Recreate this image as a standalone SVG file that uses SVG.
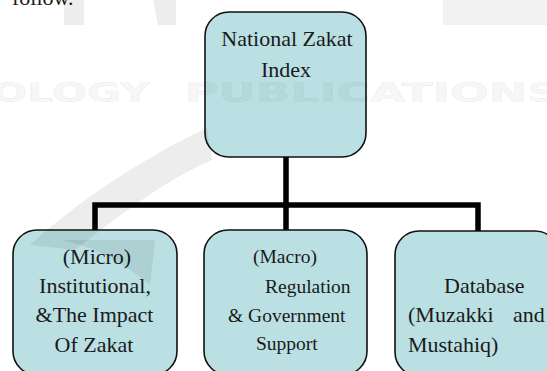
<svg xmlns="http://www.w3.org/2000/svg" width="547" height="371" viewBox="0 0 547 371">
  <style>
    .box { fill: #bbe0e3; stroke: #111; stroke-width: 1.6; }
    .t { font-family: "Liberation Serif", "Times New Roman", serif; font-size: 22px; fill: #1a1a1a; }
    .s { font-size: 19.5px; }
    .c { text-anchor: middle; }
    .wm { font-family: "DejaVu Sans", sans-serif; font-weight: bold; font-size: 27px; fill: #000; fill-opacity: 0.045; stroke: #000; stroke-opacity: 0.05; stroke-width: 1; }
    .conn { fill: none; stroke: #000; stroke-width: 5.5; stroke-linejoin: miter; stroke-linecap: butt; }
  </style>
  <rect width="547" height="371" fill="#fff"/>
  <text class="t" x="12" y="5" font-size="25">follow.</text>

  <g id="connectors">
    <path class="conn" d="M286,157 V230 M95,230 V205 H478 V231"/>
  </g>

  <g id="node-root">
    <rect class="box" x="205" y="12" width="161" height="145" rx="24"/>
    <text class="t c" x="287" y="46">National Zakat</text>
    <text class="t c" x="286" y="77">Index</text>
  </g>
  <g id="node-micro">
    <rect class="box" x="13" y="230" width="164" height="145" rx="24"/>
    <text class="t c" x="97" y="264">(Micro)</text>
    <text class="t c" x="95" y="293">Institutional,</text>
    <text class="t c" x="94.5" y="322">&amp;The Impact</text>
    <text class="t c" x="94" y="352">Of Zakat</text>
  </g>
  <g id="node-macro">
    <rect class="box" x="204" y="230" width="163" height="145" rx="24"/>
    <text class="t s" x="253" y="263">(Macro)</text>
    <text class="t s" x="265" y="293">Regulation</text>
    <text class="t s" x="228" y="322">&amp; Government</text>
    <text class="t s" x="256" y="350">Support</text>
  </g>
  <g id="node-database">
    <rect class="box" x="395" y="231" width="164" height="145" rx="24"/>
    <text class="t" x="444" y="293">Database</text>
    <text class="t" x="408" y="322">(Muzakki</text>
    <text class="t" x="513" y="322">and</text>
    <text class="t" x="408" y="352">Mustahiq)</text>
  </g>

  <g id="watermark">
    <text class="wm" x="-8" y="102" textLength="158" lengthAdjust="spacingAndGlyphs">OLOGY</text>
    <text class="wm" x="185" y="102" textLength="375" lengthAdjust="spacingAndGlyphs">PUBLICATIONS</text>
    <g fill="#000" fill-opacity="0.07">
      <path d="M207,128 C160,150 90,190 30,245 L75,250 C120,215 165,180 212,160 Z"/>
      <path d="M60,240 C90,245 120,260 150,285 L155,240 Z"/>
      <rect x="64" y="0" width="20" height="25"/>
      <path d="M153,0 L176,0 L176,25 L158,25 Z"/>
      <rect x="443" y="0" width="104" height="25" fill-opacity="0.05"/>
    </g>
  </g>
</svg>
